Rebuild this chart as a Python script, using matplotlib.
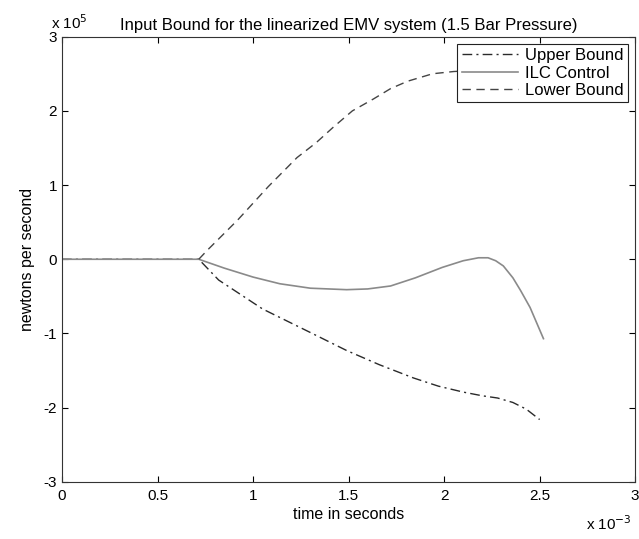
import numpy as np
import matplotlib
matplotlib.use('Agg')
import matplotlib.pyplot as plt
from matplotlib.ticker import FuncFormatter

plt.rcParams['font.family'] = ['Liberation Sans', 'DejaVu Sans']

# time in seconds, force rate in newtons per second
t_ilc = [0.0, 0.3e-3, 0.716e-3, 0.85e-3, 1.0e-3, 1.14e-3, 1.3e-3, 1.49e-3, 1.6e-3, 1.72e-3,
         1.85e-3, 1.99e-3, 2.1e-3, 2.18e-3, 2.23e-3, 2.27e-3, 2.31e-3, 2.36e-3, 2.40e-3,
         2.45e-3, 2.52e-3]
ilc = [0.0, 0.0, 0.0, -0.12e5, -0.24e5, -0.33e5, -0.39e5, -0.41e5, -0.40e5, -0.36e5,
       -0.25e5, -0.11e5, -0.02e5, 0.02e5, 0.02e5, -0.02e5, -0.09e5, -0.25e5, -0.42e5,
       -0.65e5, -1.07e5]

t_up = [0.0, 0.3e-3, 0.716e-3, 0.82e-3, 1.05e-3, 1.31e-3, 1.49e-3, 1.66e-3, 1.84e-3,
        1.97e-3, 2.10e-3, 2.20e-3, 2.28e-3, 2.36e-3, 2.43e-3, 2.50e-3]
upper = [0.0, 0.0, 0.0, -0.28e5, -0.67e5, -1.00e5, -1.23e5, -1.42e5, -1.60e5,
         -1.71e5, -1.79e5, -1.84e5, -1.87e5, -1.93e5, -2.02e5, -2.16e5]

t_low = [0.716e-3, 0.76e-3, 0.92e-3, 1.08e-3, 1.23e-3, 1.33e-3, 1.42e-3, 1.52e-3, 1.63e-3,
         1.72e-3, 1.81e-3, 1.94e-3, 2.05e-3, 2.2e-3, 2.35e-3, 2.5e-3]
lower = [0.0, 0.12e5, 0.53e5, 0.98e5, 1.37e5, 1.57e5, 1.78e5, 2.0e5, 2.16e5,
         2.30e5, 2.40e5, 2.50e5, 2.53e5, 2.55e5, 2.56e5, 2.57e5]

fig = plt.figure(figsize=(6.39, 5.39), dpi=100)
ax = fig.add_axes([0.097, 0.106, 0.897, 0.826])

ax.plot(t_up, upper, color='#2a2a2a', linestyle=(0, (7, 3, 1.5, 3)), linewidth=1.0, label='Upper Bound')
ax.plot(t_ilc, ilc, color='#8a8a8a', linestyle='-', linewidth=1.2, label='ILC Control')
ax.plot(t_low, lower, color='#444444', linestyle=(0, (6, 4)), linewidth=1.0, label='Lower Bound')

ax.set_xlim(0, 3e-3)
ax.set_ylim(-3e5, 3e5)
ax.set_xticks(np.arange(0, 3.01e-3, 0.5e-3))
ax.set_yticks(np.arange(-3e5, 3.01e5, 1e5))
ax.xaxis.set_major_formatter(FuncFormatter(lambda v, p: '%g' % round(v / 1e-3, 3)))
ax.yaxis.set_major_formatter(FuncFormatter(lambda v, p: '%g' % round(v / 1e5, 3)))
ax.tick_params(direction='in', top=True, right=True, labelsize=11, length=4)
ax.tick_params(axis='x', pad=5)
for s in ax.spines.values():
    s.set_color('#333333')

ax.set_xlabel('time in seconds', fontsize=11.5, labelpad=3)
ax.set_ylabel('newtons per second', fontsize=11.5, labelpad=6)
ax.set_title('Input Bound for the linearized EMV system (1.5 Bar Pressure)', fontsize=12, pad=5)
ax.text(-0.02, 1.01, r'x 10$^{5}$', transform=ax.transAxes, fontsize=11, va='bottom', ha='left')
ax.text(0.995, -0.072, r'x 10$^{-3}$', transform=ax.transAxes, fontsize=11, va='top', ha='right')

leg = ax.legend(loc='upper right', fontsize=12, frameon=True, fancybox=False,
                edgecolor='#222222', framealpha=1, handlelength=3.4, borderpad=0.25,
                labelspacing=0.15, borderaxespad=0.45, handletextpad=0.4)
leg.get_frame().set_linewidth(0.8)

fig.savefig('out.png', dpi=100)
